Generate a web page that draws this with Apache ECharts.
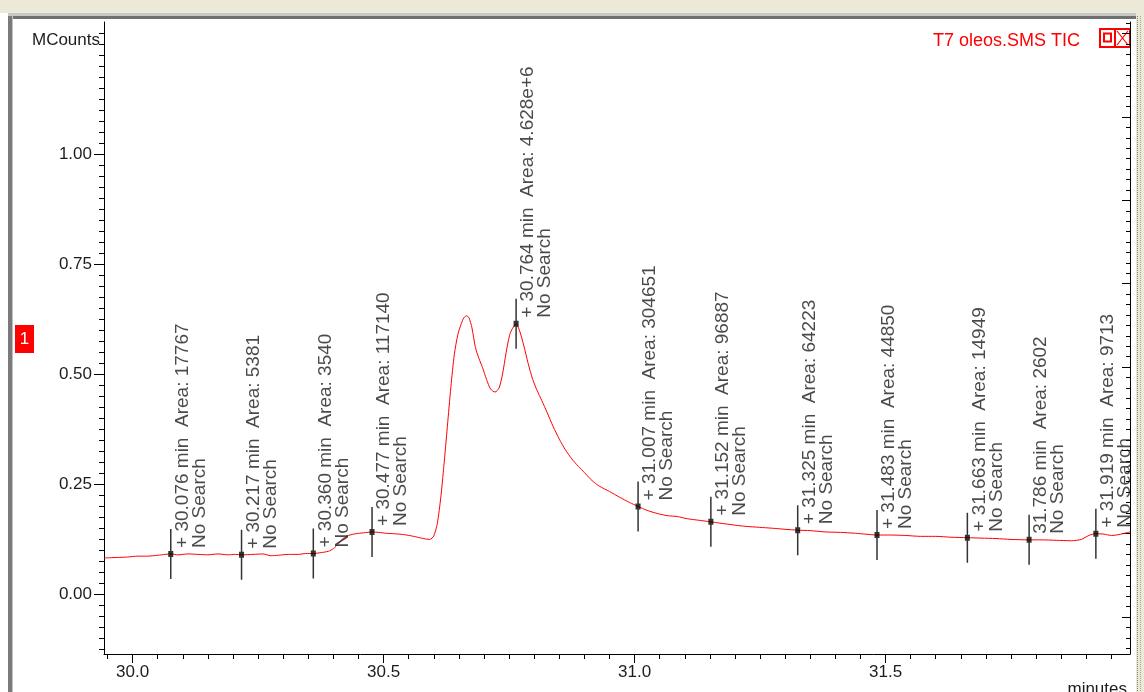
<!DOCTYPE html>
<html>
<head>
<meta charset="utf-8">
<title>T7 oleos.SMS TIC</title>
<script src="https://cdn.jsdelivr.net/npm/echarts@6/dist/echarts.min.js"></script>
<style>
  html, body { margin: 0; padding: 0; background: #ffffff; }
  #chart { width: 1144px; height: 692px; }
</style>
</head>
<body>
<div id="chart"></div>
<script>
// Total ion current trace: retention time (minutes) and intensity (MCounts)
const times = [
  29.943, 29.97, 29.99, 30.01, 30.03, 30.05, 30.065, 30.076, 30.09, 30.11,
  30.13, 30.15, 30.17, 30.19, 30.205, 30.217, 30.24, 30.26, 30.275, 30.29,
  30.31, 30.33, 30.345, 30.36, 30.375, 30.39, 30.40, 30.41, 30.42, 30.43,
  30.445, 30.46, 30.477, 30.49, 30.505, 30.52, 30.54, 30.56, 30.575, 30.592,
  30.60, 30.607, 30.614, 30.62, 30.627, 30.634, 30.641, 30.648, 30.655, 30.66,
  30.665, 30.670, 30.676, 30.683, 30.690, 30.697, 30.705, 30.713, 30.722, 30.730,
  30.737, 30.744, 30.751, 30.757, 30.764, 30.771, 30.779, 30.788, 30.797, 30.806,
  30.815, 30.826, 30.838, 30.850, 30.862, 30.875, 30.888, 30.900, 30.915, 30.930,
  30.950, 30.970, 30.990, 31.007, 31.025, 31.045, 31.065, 31.085, 31.105, 31.125,
  31.152, 31.170, 31.190, 31.210, 31.230, 31.255, 31.280, 31.300, 31.325, 31.350,
  31.380, 31.410, 31.440, 31.460, 31.483, 31.510, 31.540, 31.570, 31.600, 31.630,
  31.663, 31.690, 31.720, 31.750, 31.786, 31.810, 31.840, 31.870, 31.890, 31.905,
  31.919, 31.935, 31.950, 31.965, 31.987
];
const tic = [
  0.082, 0.083, 0.084, 0.086, 0.086, 0.088, 0.090, 0.091, 0.089, 0.091,
  0.090, 0.089, 0.091, 0.089, 0.090, 0.089, 0.090, 0.091, 0.087, 0.088,
  0.090, 0.090, 0.092, 0.092, 0.094, 0.097, 0.103, 0.114, 0.127, 0.133,
  0.137, 0.139, 0.141, 0.140, 0.138, 0.137, 0.135, 0.131, 0.127, 0.124,
  0.132, 0.160, 0.220, 0.290, 0.380, 0.470, 0.545, 0.590, 0.615, 0.628,
  0.632, 0.628, 0.605, 0.560, 0.535, 0.515, 0.488, 0.466, 0.459, 0.468,
  0.500, 0.548, 0.588, 0.604, 0.614, 0.598, 0.566, 0.524, 0.488, 0.462,
  0.440, 0.412, 0.380, 0.352, 0.328, 0.307, 0.290, 0.276, 0.258, 0.245,
  0.233, 0.220, 0.208, 0.199, 0.190, 0.183, 0.178, 0.176, 0.171, 0.168,
  0.164, 0.161, 0.158, 0.155, 0.153, 0.151, 0.149, 0.147, 0.145, 0.144,
  0.141, 0.140, 0.138, 0.136, 0.134, 0.134, 0.133, 0.131, 0.131, 0.129,
  0.128, 0.127, 0.126, 0.124, 0.123, 0.123, 0.122, 0.121, 0.124, 0.133,
  0.137, 0.136, 0.133, 0.135, 0.141
];

// Integrated peaks: apex time, apex height and report text
const peakTimes = [30.076, 30.217, 30.360, 30.477, 30.764, 31.007, 31.152, 31.325, 31.483, 31.663, 31.786, 31.919];
const peakHeights = [0.091, 0.089, 0.092, 0.141, 0.614, 0.199, 0.164, 0.145, 0.134, 0.128, 0.123, 0.137];
const peakAreas = ['17767', '5381', '3540', '117140', '4.628e+6', '304651', '96887', '64223', '44850', '14949', '2602', '9713'];
const peakPrefix = ['+ ', '+ ', '+ ', '+ ', '+ ', '+ ', '+ ', '+ ', '+ ', '+ ', '', '+ '];
const peakSearch = 'No Search';

// Axis ticks
const xMajorTicks = [30.0, 30.5, 31.0, 31.5];
const yMajorTicks = [0.00, 0.25, 0.50, 0.75, 1.00];
const traceName = 'T7 oleos.SMS TIC';

const X_MIN = 29.943, X_MAX = 31.987;
const Y_MIN = -0.1364, Y_MAX = 1.30;
const R_MIN = -0.444, R_MAX = 7.14;

function steps(from, to, step) {
  const out = [];
  for (let v = from; v <= to + 1e-9; v += step) out.push(Math.round(v * 1000) / 1000);
  return out;
}
const xMinorTicks = steps(29.95, 31.95, 0.05);
const yMinorTicks = steps(-0.125, 1.275, 0.025);
const rMajorTicks = steps(0, 7, 1);
const rMinorTicks = steps(-0.375, 7.125, 0.125);

const FONT = '"Liberation Sans", Arial, sans-serif';
const INK = '#1c1c1c';

const chart = echarts.init(document.getElementById('chart'), null, { renderer: 'canvas' });

// vertical peak bar with a small square at the apex
const barSymbol = 'path://M1.75,0 H3.25 V22 H5 V28 H3.25 V50 H1.75 V28 H0 V22 H1.75 Z';

chart.setOption({
  animation: false,
  backgroundColor: '#ffffff',
  textStyle: { fontFamily: FONT },
  grid: { left: 104, right: 14, top: 22, bottom: 38, containLabel: false, outerBoundsMode: 'none' },
  legend: {
    data: [traceName],
    icon: 'none',
    right: 59,
    top: 27,
    itemWidth: 0,
    itemGap: 0,
    selectedMode: false,
    textStyle: { color: '#ff0000', fontSize: 18, fontFamily: FONT }
  },
  xAxis: [
    {
      type: 'value', min: X_MIN, max: X_MAX, position: 'bottom',
      axisLine: { show: true, onZero: false, lineStyle: { color: '#000', width: 1 } },
      axisTick: { show: true, customValues: xMajorTicks, length: 9, lineStyle: { color: '#000' } },
      axisLabel: {
        customValues: xMajorTicks, margin: 10, color: INK, fontSize: 17, fontFamily: FONT,
        formatter: v => v.toFixed(1)
      },
      splitLine: { show: false },
      name: 'minutes', nameLocation: 'end', nameGap: 0,
      nameTextStyle: { color: INK, fontSize: 17, fontFamily: FONT, align: 'right', verticalAlign: 'top', padding: [27, 3, 0, 0] }
    },
    {
      type: 'value', min: X_MIN, max: X_MAX, position: 'bottom',
      axisLine: { show: false, onZero: false },
      axisTick: { show: true, customValues: xMinorTicks, length: 5, lineStyle: { color: '#000' } },
      axisLabel: { show: false },
      splitLine: { show: false }
    }
  ],
  yAxis: [
    {
      type: 'value', min: Y_MIN, max: Y_MAX, position: 'left',
      axisLine: { show: true, onZero: false, lineStyle: { color: '#000', width: 1 } },
      axisTick: { show: true, customValues: yMajorTicks, length: 10, lineStyle: { color: '#000' } },
      axisLabel: {
        customValues: yMajorTicks, margin: 12, color: INK, fontSize: 17, fontFamily: FONT,
        formatter: v => v.toFixed(2)
      },
      splitLine: { show: false },
      name: 'MCounts', nameLocation: 'end', nameGap: -18,
      nameTextStyle: { color: INK, fontSize: 17, fontFamily: FONT, align: 'right', verticalAlign: 'middle', padding: [0, 4, 0, 0] }
    },
    {
      type: 'value', min: Y_MIN, max: Y_MAX, position: 'left',
      axisLine: { show: false, onZero: false },
      axisTick: { show: true, customValues: yMinorTicks, length: 5, lineStyle: { color: '#000' } },
      axisLabel: { show: false },
      splitLine: { show: false }
    },
    {
      type: 'value', min: R_MIN, max: R_MAX, position: 'right',
      axisLine: { show: true, onZero: false, lineStyle: { color: '#000', width: 1 } },
      axisTick: { show: true, inside: true, customValues: rMajorTicks, length: 8, lineStyle: { color: '#000' } },
      axisLabel: { show: false },
      splitLine: { show: false }
    },
    {
      type: 'value', min: R_MIN, max: R_MAX, position: 'right',
      axisLine: { show: false, onZero: false },
      axisTick: { show: true, inside: true, customValues: rMinorTicks, length: 4, lineStyle: { color: '#000' } },
      axisLabel: { show: false },
      splitLine: { show: false }
    }
  ],
  series: [
    {
      name: traceName,
      type: 'line',
      xAxisIndex: 0, yAxisIndex: 0,
      data: times.map((t, i) => [t, tic[i]]),
      showSymbol: false,
      smooth: 0.25,
      clip: true,
      lineStyle: { color: '#ff0000', width: 1 },
      itemStyle: { color: '#ff0000' },
      z: 2
    },
    {
      name: 'peaks',
      type: 'scatter',
      xAxisIndex: 0, yAxisIndex: 0,
      data: peakTimes.map((t, i) => [t, peakHeights[i]]),
      symbol: barSymbol,
      symbolSize: [5, 50],
      symbolKeepAspect: false,
      itemStyle: { color: '#000000' },
      z: 3,
      label: {
        show: true,
        rotate: 90,
        position: [6, 19],
        align: 'left',
        verticalAlign: 'top',
        color: INK,
        fontSize: 19,
        lineHeight: 17,
        fontFamily: FONT,
        formatter: p => peakPrefix[p.dataIndex] + peakTimes[p.dataIndex].toFixed(3) + ' min  Area: ' + peakAreas[p.dataIndex] + '\n' + peakSearch
      },
      emphasis: { disabled: true }
    }
  ],
  graphic: [
    // window frame
    { type: 'rect', shape: { x: 0, y: 0, width: 1144, height: 13 }, style: { fill: '#ECE9D8' }, silent: true },
    { type: 'rect', shape: { x: 8, y: 13, width: 1128, height: 3 }, style: { fill: '#c8c8c8' }, silent: true },
    { type: 'rect', shape: { x: 8, y: 16, width: 1128, height: 3 }, style: { fill: '#707070' }, silent: true },
    { type: 'rect', shape: { x: 8, y: 16, width: 4, height: 676 }, style: { fill: '#7a7a7a' }, silent: true },
    { type: 'rect', shape: { x: 12, y: 16, width: 1, height: 676 }, style: { fill: '#c0c0c0' }, silent: true },
    { type: 'rect', shape: { x: 1136, y: 13, width: 8, height: 679 }, style: { fill: '#ECE9D8' }, silent: true },
    { type: 'line', shape: { x1: 1137.5, y1: 16, x2: 1137.5, y2: 692 }, style: { stroke: '#808080', lineWidth: 1, lineDash: [1, 1] }, silent: true },
    { type: 'line', shape: { x1: 1140.5, y1: 16, x2: 1140.5, y2: 692 }, style: { stroke: '#a0a0a0', lineWidth: 1, lineDash: [1, 1] }, silent: true },
    // trace marker tag
    { type: 'rect', shape: { x: 15, y: 325, width: 19, height: 28 }, style: { fill: '#ff0000' }, silent: true },
    { type: 'text', x: 24.5, y: 339, style: { text: '1', fill: '#ffffff', fontSize: 17, fontFamily: FONT, align: 'center', verticalAlign: 'middle' }, silent: true },
    // restore / close buttons
    { type: 'rect', shape: { x: 1100, y: 29, width: 15, height: 18 }, style: { fill: 'none', stroke: '#ff0000', lineWidth: 2 }, silent: true },
    { type: 'rect', shape: { x: 1104, y: 33.5, width: 7, height: 8 }, style: { fill: 'none', stroke: '#ff0000', lineWidth: 2 }, silent: true },
    { type: 'rect', shape: { x: 1115, y: 29, width: 15, height: 18 }, style: { fill: 'none', stroke: '#ff0000', lineWidth: 2 }, silent: true },
    { type: 'line', shape: { x1: 1117, y1: 31, x2: 1128, y2: 45 }, style: { stroke: '#ff0000', lineWidth: 1.2 }, silent: true },
    { type: 'line', shape: { x1: 1128, y1: 31, x2: 1117, y2: 45 }, style: { stroke: '#ff0000', lineWidth: 1.2 }, silent: true }
  ]
});
</script>
</body>
</html>
